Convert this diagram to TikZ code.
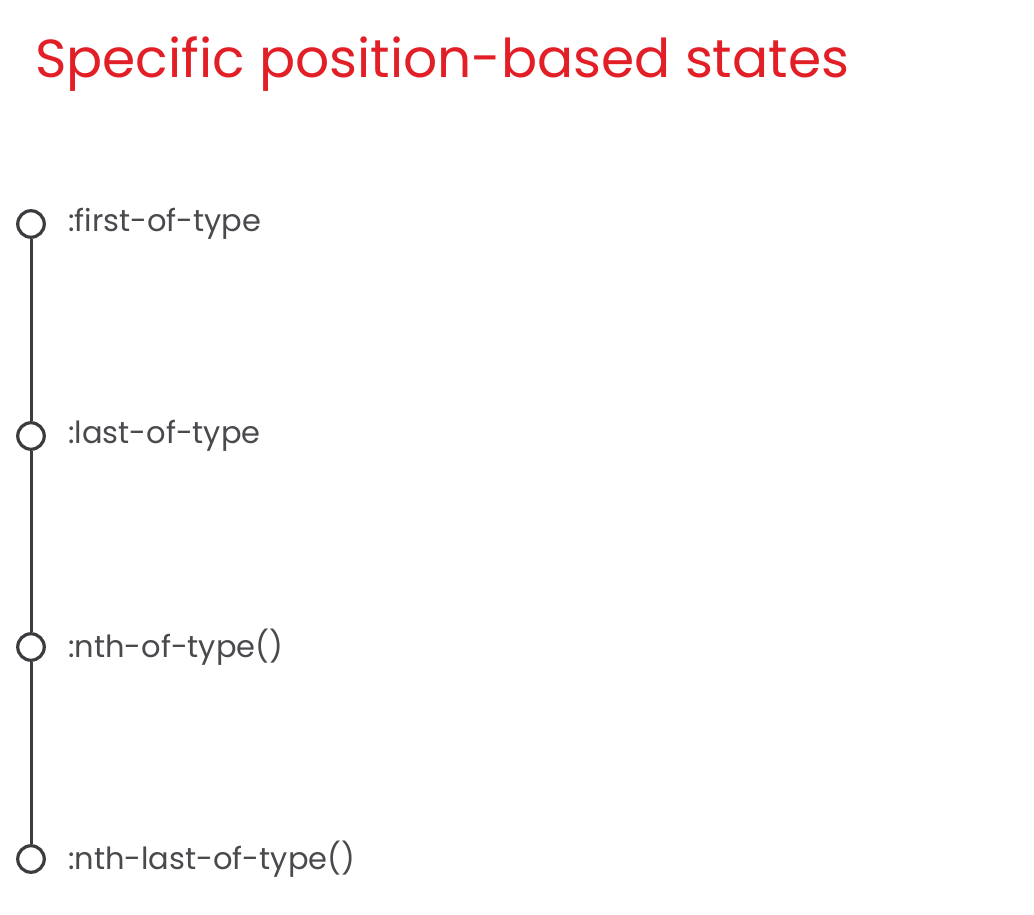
\documentclass[tikz,border=0pt]{standalone}
\usepackage{fontspec}
\setmainfont{Poppins}
\usetikzlibrary{positioning}
\definecolor{Ink}{HTML}{E21F26}
\definecolor{Rail}{HTML}{3C3C40}
\definecolor{Label}{HTML}{4A4A4E}

\begin{document}
\begin{tikzpicture}[x=1pt,y=1pt,
          stop/.style={circle,draw=Rail,line width=3.2pt,fill=white,minimum size=26.5pt,inner sep=0pt},
          label/.style={inner sep=0pt,anchor=west,text=Label,font=\fontsize{30.5}{34}\selectfont},
          rail/.style={draw=Rail,line width=3pt}]
        \useasboundingbox (0,0) rectangle (1034,-915);
        \node[inner sep=0pt,anchor=west,text=Ink,font=\fontsize{53.5}{60}\selectfont] (title)
          at (35,-64) {Specific position-based states};
        % stops of the rail
        \node[stop] (first) at (31,-224) {};
        \node[stop] (last) at (31,-436) {};
        \node[stop] (nth) at (31,-647) {};
        \node[stop] (nthlast) at (31,-859) {};
        \draw[rail] (first) -- (last);
        \draw[rail] (last) -- (nth);
        \draw[rail] (nth) -- (nthlast);
        \node[label,right=22pt of first] (lfirst) {:first-of-type};
        \node[label,right=22pt of last] (llast) {:last-of-type};
        \node[label,right=22pt of nth] (lnth) {:nth-of-type()};
        \node[label,right=22pt of nthlast] (lnthlast) {:nth-last-of-type()};
      \end{tikzpicture}
\end{document}
